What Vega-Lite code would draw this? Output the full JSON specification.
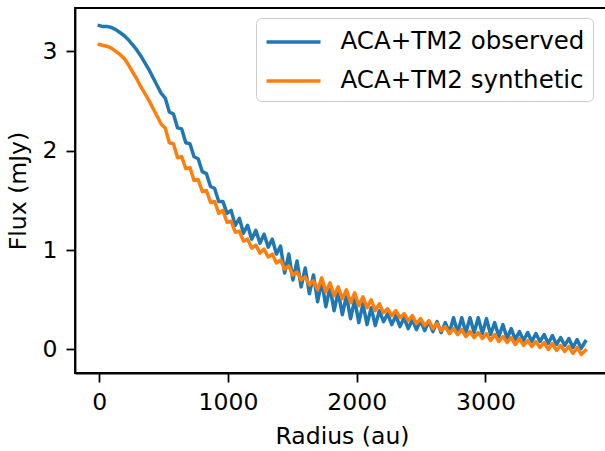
{
  "$schema": "https://vega.github.io/schema/vega-lite/v6.json",
  "width": 534,
  "height": 365,
  "autosize": {"type": "none"},
  "padding": {"left": 75, "top": 8, "right": 0, "bottom": 78},
  "background": "white",
  "config": {
    "font": "DejaVu Sans",
    "view": {"stroke": "black", "strokeWidth": 1.8},
    "axis": {
      "domainColor": "black", "domainWidth": 1.8, "tickColor": "black", "tickWidth": 1.8, "tickSize": 9,
      "labelColor": "black", "labelFontSize": 23.5, "titleFontSize": 23.5, "titleColor": "black", "titleFontWeight": "normal",
      "grid": false, "labelFlush": false, "labelOverlap": false
    }
  },
  "data": {"values": [
    {"r":0,"observed":3.26,"synthetic":3.07},
    {"r":32,"observed":3.25,"synthetic":3.06},
    {"r":64,"observed":3.25,"synthetic":3.05},
    {"r":96,"observed":3.24,"synthetic":3.03},
    {"r":128,"observed":3.22,"synthetic":3.00},
    {"r":160,"observed":3.19,"synthetic":2.97},
    {"r":192,"observed":3.16,"synthetic":2.93},
    {"r":224,"observed":3.12,"synthetic":2.87},
    {"r":256,"observed":3.07,"synthetic":2.80},
    {"r":288,"observed":3.02,"synthetic":2.73},
    {"r":320,"observed":2.96,"synthetic":2.65},
    {"r":352,"observed":2.89,"synthetic":2.58},
    {"r":384,"observed":2.82,"synthetic":2.51},
    {"r":416,"observed":2.74,"synthetic":2.43},
    {"r":448,"observed":2.66,"synthetic":2.35},
    {"r":480,"observed":2.58,"synthetic":2.27},
    {"r":512,"observed":2.53,"synthetic":2.23},
    {"r":544,"observed":2.39,"synthetic":2.08},
    {"r":576,"observed":2.37,"synthetic":2.07},
    {"r":608,"observed":2.23,"synthetic":1.93},
    {"r":640,"observed":2.22,"synthetic":1.94},
    {"r":672,"observed":2.08,"synthetic":1.82},
    {"r":704,"observed":2.07,"synthetic":1.83},
    {"r":736,"observed":1.94,"synthetic":1.70},
    {"r":768,"observed":1.92,"synthetic":1.71},
    {"r":800,"observed":1.79,"synthetic":1.59},
    {"r":832,"observed":1.77,"synthetic":1.60},
    {"r":864,"observed":1.64,"synthetic":1.48},
    {"r":896,"observed":1.62,"synthetic":1.49},
    {"r":928,"observed":1.49,"synthetic":1.37},
    {"r":960,"observed":1.49,"synthetic":1.40},
    {"r":992,"observed":1.37,"synthetic":1.28},
    {"r":1024,"observed":1.40,"synthetic":1.29},
    {"r":1056,"observed":1.25,"synthetic":1.18},
    {"r":1088,"observed":1.32,"synthetic":1.19},
    {"r":1120,"observed":1.17,"synthetic":1.09},
    {"r":1152,"observed":1.25,"synthetic":1.11},
    {"r":1184,"observed":1.11,"synthetic":1.02},
    {"r":1216,"observed":1.20,"synthetic":1.05},
    {"r":1248,"observed":1.07,"synthetic":0.97},
    {"r":1280,"observed":1.16,"synthetic":1.01},
    {"r":1312,"observed":1.03,"synthetic":0.93},
    {"r":1344,"observed":1.11,"synthetic":0.96},
    {"r":1376,"observed":0.96,"synthetic":0.87},
    {"r":1408,"observed":1.04,"synthetic":0.90},
    {"r":1440,"observed":0.77,"synthetic":0.81},
    {"r":1472,"observed":0.96,"synthetic":0.84},
    {"r":1504,"observed":0.70,"synthetic":0.75},
    {"r":1536,"observed":0.89,"synthetic":0.78},
    {"r":1568,"observed":0.63,"synthetic":0.70},
    {"r":1600,"observed":0.82,"synthetic":0.73},
    {"r":1632,"observed":0.56,"synthetic":0.65},
    {"r":1664,"observed":0.75,"synthetic":0.69},
    {"r":1696,"observed":0.48,"synthetic":0.60},
    {"r":1728,"observed":0.69,"synthetic":0.72},
    {"r":1760,"observed":0.43,"synthetic":0.58},
    {"r":1792,"observed":0.63,"synthetic":0.67},
    {"r":1824,"observed":0.39,"synthetic":0.54},
    {"r":1856,"observed":0.58,"synthetic":0.63},
    {"r":1888,"observed":0.35,"synthetic":0.51},
    {"r":1920,"observed":0.54,"synthetic":0.60},
    {"r":1952,"observed":0.31,"synthetic":0.47},
    {"r":1984,"observed":0.50,"synthetic":0.57},
    {"r":2016,"observed":0.27,"synthetic":0.44},
    {"r":2048,"observed":0.46,"synthetic":0.53},
    {"r":2080,"observed":0.25,"synthetic":0.42},
    {"r":2112,"observed":0.42,"synthetic":0.50},
    {"r":2144,"observed":0.24,"synthetic":0.39},
    {"r":2176,"observed":0.39,"synthetic":0.46},
    {"r":2208,"observed":0.28,"synthetic":0.37},
    {"r":2240,"observed":0.36,"synthetic":0.41},
    {"r":2272,"observed":0.25,"synthetic":0.34},
    {"r":2304,"observed":0.34,"synthetic":0.39},
    {"r":2336,"observed":0.23,"synthetic":0.32},
    {"r":2368,"observed":0.32,"synthetic":0.36},
    {"r":2400,"observed":0.21,"synthetic":0.29},
    {"r":2432,"observed":0.30,"synthetic":0.34},
    {"r":2464,"observed":0.20,"synthetic":0.26},
    {"r":2496,"observed":0.29,"synthetic":0.31},
    {"r":2528,"observed":0.19,"synthetic":0.24},
    {"r":2560,"observed":0.28,"synthetic":0.29},
    {"r":2592,"observed":0.18,"synthetic":0.21},
    {"r":2624,"observed":0.28,"synthetic":0.26},
    {"r":2656,"observed":0.17,"synthetic":0.19},
    {"r":2688,"observed":0.27,"synthetic":0.23},
    {"r":2720,"observed":0.17,"synthetic":0.16},
    {"r":2752,"observed":0.32,"synthetic":0.21},
    {"r":2784,"observed":0.17,"synthetic":0.15},
    {"r":2816,"observed":0.32,"synthetic":0.20},
    {"r":2848,"observed":0.17,"synthetic":0.13},
    {"r":2880,"observed":0.32,"synthetic":0.18},
    {"r":2912,"observed":0.17,"synthetic":0.12},
    {"r":2944,"observed":0.32,"synthetic":0.17},
    {"r":2976,"observed":0.16,"synthetic":0.11},
    {"r":3008,"observed":0.31,"synthetic":0.16},
    {"r":3040,"observed":0.15,"synthetic":0.09},
    {"r":3072,"observed":0.27,"synthetic":0.15},
    {"r":3104,"observed":0.13,"synthetic":0.08},
    {"r":3136,"observed":0.25,"synthetic":0.13},
    {"r":3168,"observed":0.11,"synthetic":0.07},
    {"r":3200,"observed":0.21,"synthetic":0.12},
    {"r":3232,"observed":0.10,"synthetic":0.05},
    {"r":3264,"observed":0.18,"synthetic":0.11},
    {"r":3296,"observed":0.09,"synthetic":0.04},
    {"r":3328,"observed":0.17,"synthetic":0.09},
    {"r":3360,"observed":0.08,"synthetic":0.03},
    {"r":3392,"observed":0.16,"synthetic":0.08},
    {"r":3424,"observed":0.08,"synthetic":0.02},
    {"r":3456,"observed":0.15,"synthetic":0.07},
    {"r":3488,"observed":0.06,"synthetic":0.00},
    {"r":3520,"observed":0.14,"synthetic":0.06},
    {"r":3552,"observed":0.05,"synthetic":-0.01},
    {"r":3584,"observed":0.12,"synthetic":0.04},
    {"r":3616,"observed":0.04,"synthetic":-0.02},
    {"r":3648,"observed":0.11,"synthetic":0.03},
    {"r":3680,"observed":0.02,"synthetic":-0.04},
    {"r":3712,"observed":0.10,"synthetic":0.02},
    {"r":3744,"observed":0.01,"synthetic":-0.05},
    {"r":3776,"observed":0.08,"synthetic":-0.01}
  ]},
  "transform": [{"fold": ["observed", "synthetic"], "as": ["series", "flux"]}],
  "mark": {"type": "line", "strokeWidth": 3.5, "clip": true, "strokeJoin": "round", "strokeCap": "square"},
  "encoding": {
    "x": {
      "field": "r", "type": "quantitative",
      "scale": {"domain": [-189, 3960], "nice": false, "zero": false},
      "axis": {"title": "Radius (au)", "values": [0, 1000, 2000, 3000], "format": "d", "labelPadding": 8, "titleBaseline": "alphabetic", "titleY": 70}
    },
    "y": {
      "field": "flux", "type": "quantitative",
      "scale": {"domain": [-0.237, 3.437], "nice": false, "zero": false},
      "axis": {"title": "Flux (mJy)", "values": [0, 1, 2, 3], "format": "d", "labelPadding": 9, "titleBaseline": "alphabetic", "titleX": -50, "titleY": 182.5}
    },
    "color": {
      "field": "series", "type": "nominal",
      "scale": {"domain": ["observed", "synthetic"], "range": ["#1f77b4", "#ff7f0e"]},
      "legend": {
        "title": null, "orient": "none", "legendX": 181, "legendY": 10,
        "labelExpr": "'ACA+TM2 ' + datum.label", "labelLimit": 400,
        "symbolType": "M-1,0L3,0", "symbolSize": 729, "symbolStrokeWidth": 3.5, "symbolStrokeColor": {"expr": "scale('color', datum.value)"},
        "labelFontSize": 24.5, "labelColor": "black", "labelOffset": 45, "rowPadding": 12,
        "padding": 8.5, "fillColor": "white", "strokeColor": "#cccccc", "cornerRadius": 5
      }
    }
  }
}
